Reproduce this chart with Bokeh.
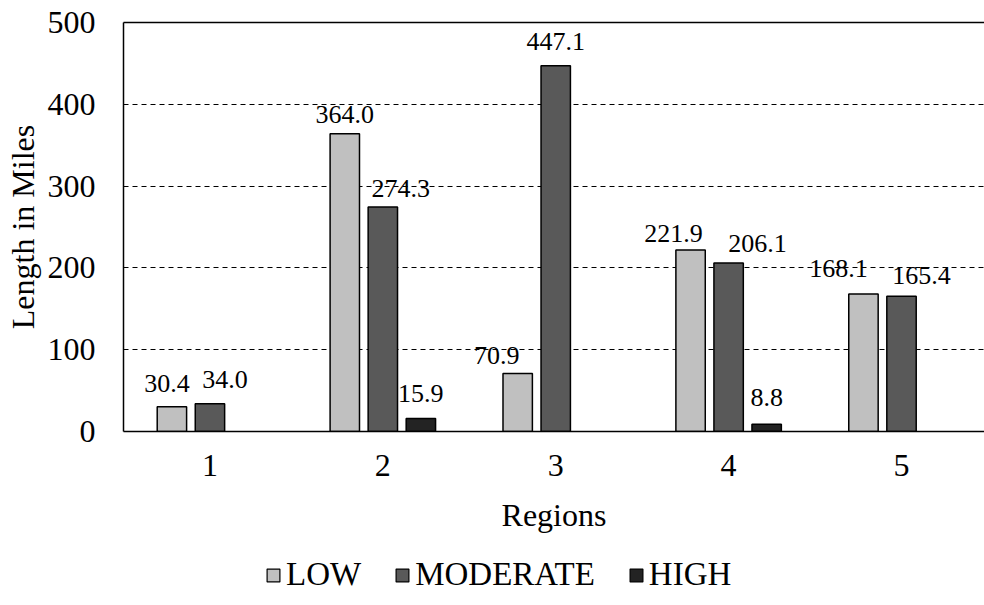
from bokeh.plotting import figure
from bokeh.layouts import column
from bokeh.core.properties import value
from bokeh.models import (ColumnDataSource, Range1d, FixedTicker, LinearAxis,
                          Legend, LegendItem, LabelSet)
from bokeh.embed import file_html
from bokeh.resources import INLINE

# Length in miles per region, by rating class
regions = [1, 2, 3, 4, 5]
region_labels = ["1", "2", "3", "4", "5"]
low = [30.4, 364.0, 70.9, 221.9, 168.1]
moderate = [34.0, 274.3, 447.1, 206.1, 165.4]
high = [None, 15.9, None, 8.8, None]          # no HIGH miles in regions 1, 3, 5
series_names = ["LOW", "MODERATE", "HIGH"]
y_ticks = [0, 100, 200, 300, 400, 500]

# styling
FONT = "Liberation Serif"
colors = ["#C0C0C0", "#595959", "#232323"]
group_shift = [-0.22, 0.0, 0.22]
bar_width = 0.17
# per-label nudges in screen pixels (dx, lift above bar top)
label_dx = [[-5, 0, -21, -17, -25],
            [15, 18, 0, 29, 20],
            [0, 0, 0, 0, 0]]
label_lift = [[15, 11, 10, 8, 17],
              [16, 10, 16, 11, 12],
              [16, 16, 16, 18, 16]]

p = figure(width=984, height=550,
           x_range=Range1d(0.5, 5.48), y_range=Range1d(0, 500),
           output_backend="svg", toolbar_location=None,
           min_border_left=123, min_border_right=0,
           min_border_top=22, min_border_bottom=119)
p.outline_line_color = None
p.background_fill_color = "white"
p.border_fill_color = "white"

for k, (name, vals) in enumerate(zip(series_names, [low, moderate, high])):
    xs, ys, txt, dx, lift = [], [], [], [], []
    for i, v in enumerate(vals):
        if v is None:
            continue
        xs.append(regions[i] + group_shift[k])
        ys.append(v)
        txt.append(f"{v:.1f}")
        dx.append(label_dx[k][i])
        lift.append(label_lift[k][i])
    src = ColumnDataSource(dict(x=xs, top=ys, label=txt, dx=dx, lift=lift))
    p.vbar(x="x", top="top", bottom=0, width=bar_width, source=src,
           fill_color=colors[k], line_color="black", line_width=1.5)
    p.add_layout(LabelSet(x="x", y="top", text="label", source=src,
                          x_offset="dx", y_offset="lift",
                          text_align="center", text_baseline="alphabetic",
                          text_font=value(FONT), text_font_size="26px",
                          text_color="black"))


def style_axis(ax, label, standoff, label_standoff):
    ax.axis_label = label
    ax.axis_line_color = "black"
    ax.axis_line_width = 1.5
    ax.major_tick_out = 0
    ax.major_tick_in = 0
    ax.minor_tick_out = 0
    ax.minor_tick_in = 0
    ax.major_label_standoff = standoff
    ax.axis_label_standoff = label_standoff
    ax.major_label_text_font = FONT
    ax.major_label_text_font_size = "32px"
    ax.axis_label_text_font = FONT
    ax.axis_label_text_font_size = "32px"
    ax.axis_label_text_font_style = "normal"
    ax.major_label_text_color = "black"
    ax.axis_label_text_color = "black"


xa = p.xaxis[0]
xa.ticker = FixedTicker(ticks=regions)
xa.major_label_overrides = {r: lab for r, lab in zip(regions, region_labels)}
style_axis(xa, "Regions", 23, 18)

ya = p.yaxis[0]
ya.ticker = FixedTicker(ticks=y_ticks)
style_axis(ya, "Length in Miles", 28, 4)

# top border of the plot area
top = LinearAxis(ticker=FixedTicker(ticks=[]), axis_line_color="black",
                 axis_line_width=1.5, major_tick_out=0, major_tick_in=0,
                 minor_tick_out=0, minor_tick_in=0,
                 major_label_text_font_size="0px")
p.add_layout(top, "above")

# dashed horizontal gridlines
p.xgrid.visible = False
p.ygrid.ticker = FixedTicker(ticks=[100, 200, 300, 400])
p.ygrid.grid_line_color = "black"
p.ygrid.grid_line_width = 1
p.ygrid.grid_line_dash = "5 4"

# legend strip underneath the chart; its swatch renderers sit outside the
# visible range so only the legend entries show
lg = figure(width=984, height=55, x_range=Range1d(0, 1), y_range=Range1d(0, 1),
            output_backend="svg", toolbar_location=None,
            x_axis_type=None, y_axis_type=None,
            min_border=0, min_border_left=0, min_border_right=0,
            min_border_top=0, min_border_bottom=0)
lg.outline_line_color = None
lg.grid.visible = False
lg.background_fill_color = "white"
lg.border_fill_color = "white"

items = []
for name, c in zip(series_names, colors):
    r = lg.vbar(x=[-5.0], top=[-4.0], bottom=[-5.0], width=0.1, fill_color=c,
                line_color="black", line_width=1.2)
    items.append(LegendItem(label=name, renderers=[r]))

# the strip's frame lines up with the chart frame (left edge at 123 px)
legend = Legend(items=items, orientation="horizontal",
                location=(142, 12), glyph_width=16, glyph_height=16,
                label_standoff=5, spacing=33, padding=0, margin=0,
                border_line_color=None, background_fill_alpha=0,
                label_text_font=FONT, label_text_font_size="33px",
                label_text_color="black")
lg.add_layout(legend, "center")

open("out.html", "w").write(file_html(column(p, lg), INLINE))
